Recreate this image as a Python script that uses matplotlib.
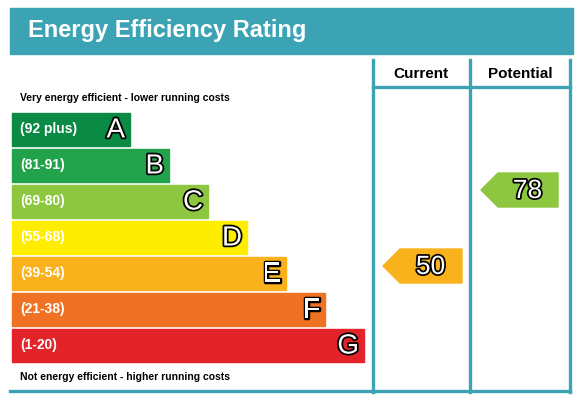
import matplotlib.pyplot as plt
from matplotlib.patches import Rectangle, Polygon
import matplotlib.patheffects as pe

plt.rcParams['font.family'] = ['Liberation Sans', 'DejaVu Sans']

bands = ["A", "B", "C", "D", "E", "F", "G"]
ranges = ["(92 plus)", "(81-91)", "(69-80)", "(55-68)", "(39-54)", "(21-38)", "(1-20)"]
colors = ["#0a8a45", "#22a24a", "#8dc63f", "#ffed00", "#f9b21b", "#ef7124", "#e2232a"]
current = 50
potential = 78
current_band = "E"
potential_band = "C"

teal = "#3ba3b4"
fig = plt.figure(figsize=(5.83, 4.04), dpi=100)
ax = fig.add_axes([0, 0, 1, 1])
ax.set_xlim(0, 583)
ax.set_ylim(404, 0)
ax.axis("off")

# title bar
ax.add_patch(Rectangle((10, 8), 563, 46, color=teal))
ax.text(28, 31, "Energy Efficiency Rating", color="white", fontsize=17,
        fontweight="bold", va="center")

# frame
lw = 2.4
for x in [373, 470, 570]:
    ax.plot([x, x], [60, 392], color=teal, lw=lw)
ax.plot([10, 570], [391, 391], color=teal, lw=lw)
ax.plot([373, 570], [87, 87], color=teal, lw=lw)
ax.text(421, 74, "Current", fontsize=11, fontweight="bold", ha="center", va="center")
ax.text(520, 74, "Potential", fontsize=11, fontweight="bold", ha="center", va="center")

ax.text(20, 98, "Very energy efficient - lower running costs", fontsize=7.5,
        fontweight="bold", va="center")
ax.text(20, 377, "Not energy efficient - higher running costs", fontsize=7.5,
        fontweight="bold", va="center")

outline = [pe.withStroke(linewidth=2.5, foreground="black")]
top0, step, h = 113, 36, 33
for i, (b, r, c) in enumerate(zip(bands, ranges, colors)):
    y = top0 + i * step
    w = 118 + i * 39
    ax.add_patch(Rectangle((12, y), w, h, color=c))
    ax.text(20, y + h / 2, r, color="white", fontsize=10, fontweight="bold", va="center")
    ax.text(12 + w - 5, y + h / 2 + 1, b, color="white", fontsize=20, ha="right",
            va="center", path_effects=outline)

def arrow(x0, x1, yc, val, col):
    hh = 17
    pts = [(x0, yc), (x0 + 17, yc - hh), (x1, yc - hh), (x1, yc + hh), (x0 + 17, yc + hh)]
    ax.add_patch(Polygon(pts, closed=True, color=col))
    ax.text((x0 + x1) / 2 + 8, yc + 1, str(val), color="white", fontsize=19,
            ha="center", va="center", path_effects=outline)

arrow(383, 462, 266, current, colors[bands.index(current_band)])
arrow(481, 558, 190, potential, colors[bands.index(potential_band)])

fig.savefig("out.png", dpi=100, facecolor="white")
